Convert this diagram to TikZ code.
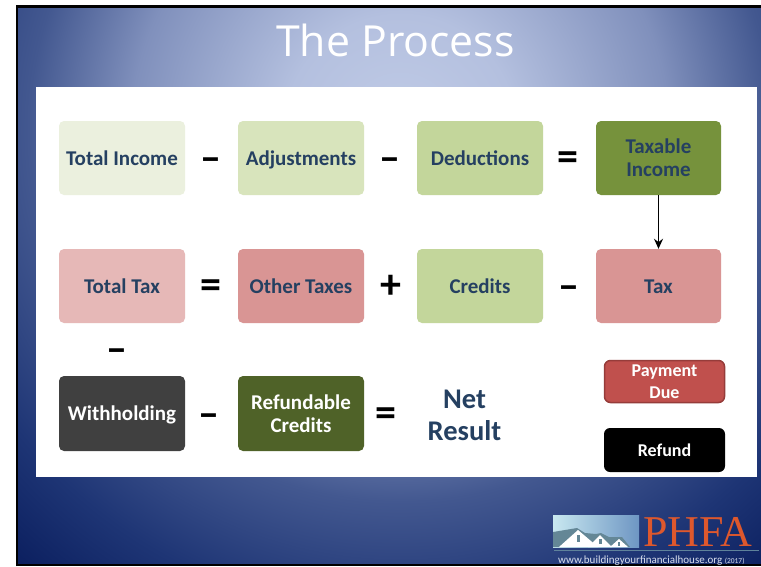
\documentclass[tikz,border=0pt]{standalone}
\usepackage{fontspec}
\setmainfont{Carlito}
\newfontfamily\titlefont{Open Sans}
\newfontfamily\logofont{Liberation Serif}
\usetikzlibrary{arrows.meta}
\definecolor{navy}{HTML}{254061}
\definecolor{g1}{HTML}{EBF0DE}
\definecolor{g2}{HTML}{D8E4BC}
\definecolor{g3}{HTML}{C3D69B}
\definecolor{g4}{HTML}{76923C}
\definecolor{g5}{HTML}{4F6228}
\definecolor{r1}{HTML}{E6B8B7}
\definecolor{r2}{HTML}{D99594}
\definecolor{r3}{HTML}{C0504D}
\definecolor{r3d}{HTML}{963C3A}
\definecolor{dk}{HTML}{404040}
\definecolor{lg1}{HTML}{C8E8F0}
\definecolor{lg2}{HTML}{6E96C3}
\definecolor{roof}{HTML}{648796}
\definecolor{lnc}{HTML}{5F829B}
\definecolor{org}{HTML}{DE582D}
\definecolor{urlc}{HTML}{D9DFEE}
\definecolor{s0}{HTML}{C0CBE6}
\definecolor{s1}{HTML}{B4C0DF}
\definecolor{s2}{HTML}{8090BC}
\definecolor{s3}{HTML}{435890}
\definecolor{s4}{HTML}{1E3575}
\definecolor{s5}{HTML}{0C2060}
\pgfdeclareradialshading{slidebg}{\pgfpointorigin}{
 color(0bp)=(s0);
 color(4.5bp)=(s1);
 color(10.5bp)=(s2);
 color(14.5bp)=(s3);
 color(19bp)=(s4);
 color(22.5bp)=(s5);
 color(50bp)=(s5)}
\tikzset{
 x=1pt,y=-1pt,
 bx/.style={rounded corners=5pt,minimum width=126pt,minimum height=74pt,inner sep=0pt,align=center,
   text=navy,font=\fontsize{21}{23}\selectfont\bfseries},
 one/.style={bx,text height=16.5pt,text depth=2pt},
 op/.style={inner sep=0pt,font=\fontsize{42}{42}\selectfont\bfseries,text=black},
 small/.style={rounded corners=6pt,minimum width=120pt,inner sep=0pt,align=center,text=white,
   font=\fontsize{18}{22}\selectfont\bfseries},
}
\begin{document}
\begin{tikzpicture}
\useasboundingbox (0,0) rectangle (761,566);
\fill[white] (0,0) rectangle (761,566);
\begin{scope}
\clip (17,6) rectangle (761,565);
\shade[shading=slidebg] (400,130) circle (640);
\end{scope}
\draw[black,line width=2.5pt] (17,566) -- (17,6.5) -- (761,6.5);
\draw[black,line width=2pt] (17,565) -- (761,565);
\fill[white] (36,87) rectangle (757,477);
\node[text=white,font=\titlefont\fontsize{42.8}{50}\selectfont,inner sep=0pt] (title) at (395.5,40) {The Process};
% row 1
\node[one,fill=g1] (a1) at (122,158) {Total Income};
\node[one,fill=g2] (a2) at (301,158) {Adjustments};
\node[one,fill=g3] (a3) at (480,158) {Deductions};
\node[bx,fill=g4,minimum width=125pt] (a4) at (658.5,158) {Taxable\\Income};
\node[op] (o1) at (210.5,165) {--};
\node[op] (o2) at (389.5,165) {--};
\node[op] (o3) at (568,161) {=};
% row 2
\node[one,fill=r1] (b1) at (122,286) {Total Tax};
\node[one,fill=r2] (b2) at (301,286) {Other Taxes};
\node[one,fill=g3] (b3) at (480,286) {Credits};
\node[one,fill=r2,minimum width=125pt] (b4) at (658.5,286) {Tax};
\node[op] (p1) at (210.5,289) {=};
\node[op] (p2) at (391,287) {+};
\node[op] (p3) at (568.5,293) {--};
\node[op] (p4) at (117,356) {--};
% row 3
\node[one,fill=dk,text=white,minimum height=75pt] (c1) at (122,413.5) {Withholding};
\node[bx,fill=g5,text=white,minimum height=75pt] (c2) at (301,413.5) {Refundable\\Credits};
\node[op] (q1) at (209,421) {--};
\node[op] (q2) at (386,417) {=};
\node[inner sep=0pt,align=center,text=navy,font=\fontsize{28.5}{32}\selectfont\bfseries] (net) at (464.5,415) {Net\\Result};
\node[small,fill=r3,draw=r3d,line width=1.5pt,minimum height=42pt] (pay) at (664.5,381.5) {Payment\\Due};
\node[small,fill=black,minimum width=121pt,minimum height=44pt] (ref) at (664.5,450) {Refund};
\draw[-{Stealth[length=10pt,width=9pt]},line width=1.8pt,black] (a4) -- (b4);
% logo
\shade[left color=lg1,right color=lg2] (553,515.5) rectangle (639,547);
\fill[roof] (553,532) -- (577,528) -- (585,533) -- (596,534) -- (601,533) -- (609,537) -- (617,537) -- (622,537) -- (630,547) -- (553,547) -- cycle;
\fill[white] (559,547) -- (578,530) -- (598,547) -- cycle;
\fill[white] (588,547) -- (600,535) -- (612,547) -- cycle;
\fill[white] (610,547) -- (619,539) -- (628,547) -- cycle;
\fill[roof] (576.5,535) rectangle (579.5,542);
\fill[roof] (599,539) rectangle (601.5,544);
\fill[roof] (618,542) rectangle (620,546);
\draw[lnc,line width=1.2pt] (554,550.5) -- (759,550.5);
\node[anchor=base west,inner sep=0pt,text=org,font=\logofont\fontsize{44}{44}\selectfont] (phfa) at (643,546.5) {PHFA};
\node[anchor=base west,inner sep=0pt,text=urlc,font=\fontsize{11}{12}\selectfont] (url) at (558,563.5) {www.buildingyourfinancialhouse.org {\fontsize{7.5}{9}\selectfont (2017)}};
\end{tikzpicture}
\end{document}
